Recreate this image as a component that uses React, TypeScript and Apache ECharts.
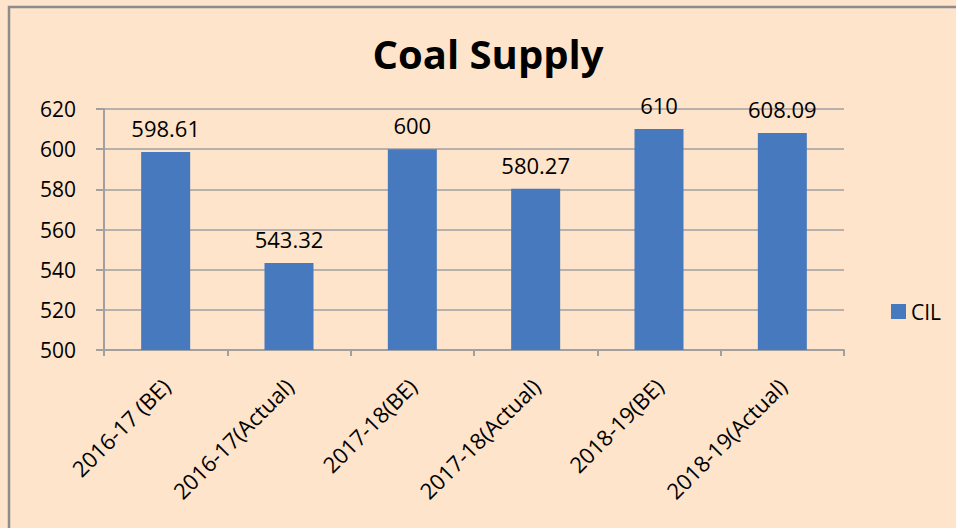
import React, { useEffect, useRef } from "react";
import * as echarts from "echarts";

const categories = [
  "2016-17 (BE)",
  "2016-17(Actual)",
  "2017-18(BE)",
  "2017-18(Actual)",
  "2018-19(BE)",
  "2018-19(Actual)",
];
const cilValues = [598.61, 543.32, 600, 580.27, 610, 608.09];
const cilLabels = ["598.61", "543.32", "600", "580.27", "610", "608.09"];
const seriesName = "CIL";
const titleText = "Coal Supply";

export default function App() {
  const ref = useRef<HTMLDivElement>(null);
  useEffect(() => {
    if (!ref.current) return;
    const chart = echarts.init(ref.current, undefined, { renderer: "svg" });
    const font = "'Open Sans', 'Noto Sans', sans-serif";
    chart.setOption({
      animation: false,
      backgroundColor: "#FDE4CA",
      textStyle: { fontFamily: font },
      graphic: [
        {
          type: "rect",
          shape: { x: 9, y: 7, width: 960, height: 540 },
          style: { fill: "none", stroke: "#8C8C8C", lineWidth: 2.5 },
          silent: true,
        },
      ],
      title: {
        text: titleText,
        left: 483,
        textAlign: "center",
        top: 28,
        textStyle: { fontFamily: font, fontSize: 40, fontWeight: "bold", color: "#000" },
      },
      legend: {
        data: [seriesName],
        left: 886,
        top: 296,
        itemWidth: 15,
        itemHeight: 15,
        itemGap: 6,
        icon: "rect",
        textStyle: { fontFamily: font, fontSize: 21, color: "#000" },
      },
      grid: { left: 104, right: 112, top: 109, bottom: 178, containLabel: false },
      xAxis: {
        type: "category",
        data: categories,
        axisLine: { show: true, lineStyle: { color: "#A0A0A0", width: 2 } },
        axisTick: { show: true, alignWithLabel: false, length: 6, lineStyle: { color: "#A0A0A0", width: 2 } },
        axisLabel: { rotate: 45, fontSize: 22, color: "#000", margin: 32, fontFamily: font, interval: 0 },
      },
      yAxis: {
        type: "value",
        min: 500,
        max: 620,
        interval: 20,
        axisLine: { show: true, lineStyle: { color: "#A0A0A0", width: 2 } },
        axisTick: { show: true, length: 8, lineStyle: { color: "#A0A0A0", width: 2 } },
        splitLine: { show: true, lineStyle: { color: "#A0A0A0", width: 1.5 } },
        axisLabel: { fontSize: 21, color: "#000", margin: 28, fontFamily: font },
      },
      series: [
        {
          name: seriesName,
          type: "bar",
          data: cilValues,
          barWidth: 49,
          itemStyle: { color: "#4679BD" },
          label: {
            show: true,
            position: "top",
            distance: 13,
            fontSize: 22,
            color: "#000",
            fontFamily: font,
            formatter: (p: any) => cilLabels[p.dataIndex],
          },
        },
      ],
    });
    return () => chart.dispose();
  }, []);
  return (
    <div
      ref={ref}
      style={{ position: "absolute", left: 0, top: 0, width: 956, height: 528 }}
    />
  );
}
